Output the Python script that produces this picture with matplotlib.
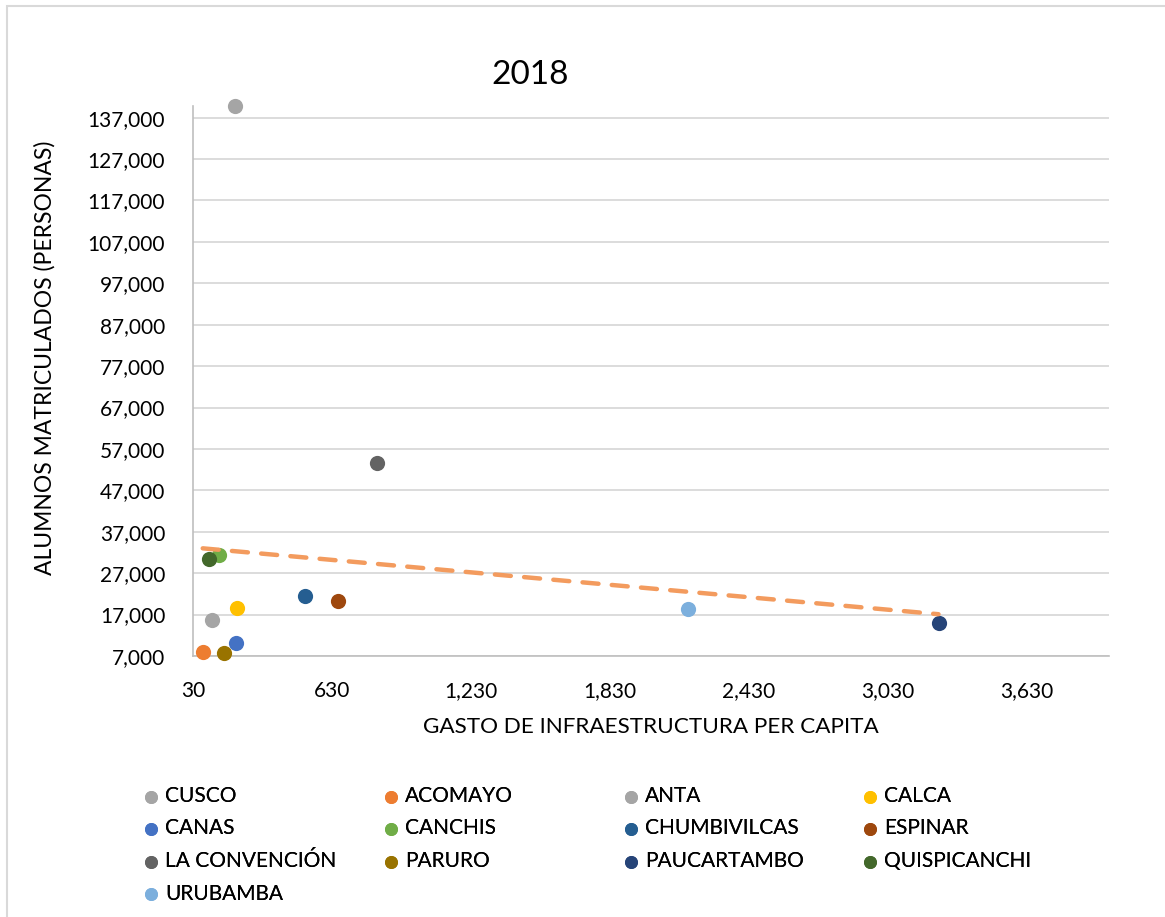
import matplotlib.pyplot as plt
from matplotlib.patches import Rectangle
import numpy as np

plt.rcParams['font.family'] = ['Lato', 'DejaVu Sans']

# datos 2018 por provincia
provincias = ["CUSCO", "ACOMAYO", "ANTA", "CALCA", "CANAS", "CANCHIS",
              "CHUMBIVILCAS", "ESPINAR", "LA CONVENCIÓN", "PARURO",
              "PAUCARTAMBO", "QUISPICANCHI", "URUBAMBA"]
gasto = [211, 72, 112, 221, 216, 142, 515, 657, 823, 162, 3249, 98, 2167]
alumnos = [139900, 7900, 15700, 18600, 10140, 31320, 21420, 20290,
           53550, 7650, 15040, 30430, 18430]
colores = ["#A5A5A5", "#ED7D31", "#A5A5A5", "#FFC000", "#4472C4", "#70AD47",
           "#255E91", "#9E480E", "#636363", "#997300", "#264478", "#43682B",
           "#7CAFDD"]

x_ticks = np.arange(30, 3631, 600)
y_ticks = np.arange(7000, 137001, 10000)

fig = plt.figure(figsize=(11.65, 9.17), dpi=100)
ax = fig.add_axes([193 / 1165, 1 - 656 / 917, (1109 - 193) / 1165, (656 - 106) / 917])

handles = []
for nombre, gx, al, c in zip(provincias, gasto, alumnos, colores):
    h = ax.scatter(gx, al, s=120, color=c, linewidths=0, zorder=3,
                   clip_on=False, label=nombre)
    handles.append(h)

# linea de tendencia lineal
m, b = np.polyfit(gasto, alumnos, 1)
xt = np.array([min(gasto), max(gasto)])
ax.plot(xt, m * xt + b, color="#F39B5E", lw=3.2, dashes=(3.6, 3.0),
        solid_capstyle="round", dash_capstyle="round", zorder=4)

ax.set_xlim(30, 3985)
ax.set_ylim(7000, 139800)
ax.set_xticks(x_ticks)
ax.set_yticks(y_ticks)
ax.xaxis.set_major_formatter(plt.FuncFormatter(lambda v, p: f"{v:,.0f}"))
ax.yaxis.set_major_formatter(plt.FuncFormatter(lambda v, p: f"{v:,.0f}"))
ax.tick_params(axis="both", length=0, labelsize=15, colors="#000000")
ax.tick_params(axis="y", pad=20)
ax.tick_params(axis="x", pad=18)
ax.grid(axis="y", color="#D9D9D9", lw=1.3)
ax.set_axisbelow(True)
for lado in ["top", "right"]:
    ax.spines[lado].set_visible(False)
ax.spines["left"].set_color("#BFBFBF")
ax.spines["bottom"].set_color("#BFBFBF")
ax.spines["left"].set_linewidth(1.2)
ax.spines["bottom"].set_linewidth(1.2)

fig.text(530 / 1165, 1 - 75 / 917, "2018", fontsize=24, ha="center", va="center")
fig.text(651 / 1165, 1 - 727 / 917, "GASTO DE INFRAESTRUCTURA PER CAPITA",
         fontsize=16.2, ha="center", va="center")
fig.text(45 / 1165, 1 - 358 / 917, "ALUMNOS MATRICULADOS (PERSONAS)",
         fontsize=16.5, ha="center", va="center", rotation=90)

# leyenda en 4 columnas de igual ancho
columnas = [[0, 4, 8, 12], [1, 5, 9], [2, 6, 10], [3, 7, 11]]
x_col = [143, 383, 623, 862]
for xc, idx in zip(x_col, columnas):
    leg = fig.legend([handles[i] for i in idx], [provincias[i] for i in idx],
                     loc="upper left", bbox_to_anchor=(xc / 1165, 1 - 786 / 917),
                     frameon=False, fontsize=15, borderpad=0, borderaxespad=0,
                     handlelength=0.75, handletextpad=0.3, labelspacing=0.6,
                     markerscale=0.85)
    fig.add_artist(leg)

fig.add_artist(Rectangle((7 / 1165, -0.2), 1.2, 1.2 - 6 / 917,
                         transform=fig.transFigure, fill=False,
                         edgecolor="#D9D9D9", lw=1.5))

fig.savefig("out.png", dpi=100)
